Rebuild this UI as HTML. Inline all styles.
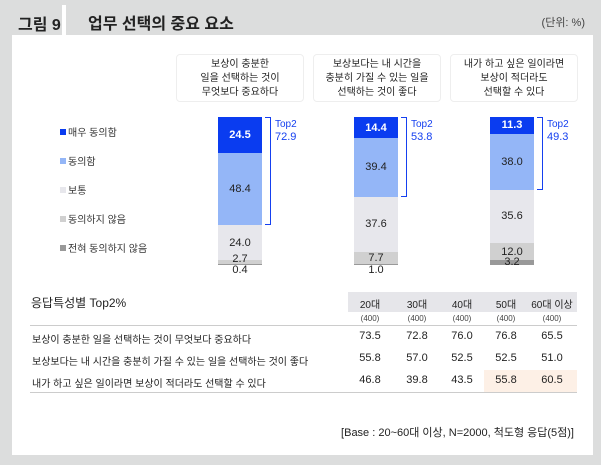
<!DOCTYPE html>
<html><head><meta charset="utf-8"><style>
*{margin:0;padding:0;box-sizing:border-box}
body{width:601px;height:465px;background:#dcdddd;position:relative;font-family:"Liberation Sans","Noto Sans CJK KR",sans-serif;color:#222;overflow:hidden}
.abs{position:absolute}
.lbl{position:absolute;background:#fff;border:1px solid #eee;border-radius:4px;font-size:10px;line-height:14px;text-align:center;padding-top:3px}
.leg{position:absolute;left:60px;font-size:10px;color:#333;white-space:nowrap}
.leg i{display:inline-block;width:6px;height:6px;margin-right:2px;vertical-align:1px}
.seg{position:absolute;font-size:11px;text-align:center}
</style></head><body>
<div class="abs" style="left:5px;top:5px;width:57px;height:30px;background:#dcdddd">
  <div style="position:absolute;left:13px;top:6px;font-size:16px;font-weight:bold;color:#222">그림 9</div></div>
<div class="abs" style="left:62px;top:5px;width:4px;height:30px;background:#fff"></div>
<div class="abs" style="left:88px;top:10px;font-size:16px;font-weight:bold">업무 선택의 중요 요소</div>
<div class="abs" style="right:16px;top:14px;font-size:11px;color:#444">(단위: %)</div>
<div class="abs" style="left:12px;top:35px;width:581px;height:420px;background:#fff"></div>

<div class="lbl" style="left:176px;top:54px;width:128px;height:48px">보상이 충분한<br>일을 선택하는 것이<br>무엇보다 중요하다</div>
<div class="lbl" style="left:313px;top:54px;width:128px;height:48px">보상보다는 내 시간을<br>충분히 가질 수 있는 일을<br>선택하는 것이 좋다</div>
<div class="lbl" style="left:450px;top:54px;width:128px;height:48px">내가 하고 싶은 일이라면<br>보상이 적더라도<br>선택할 수 있다</div>

<div class="leg" style="top:124px"><i style="background:#0a3cf0"></i>매우 동의함</div>
<div class="leg" style="top:153px"><i style="background:#94b6f7"></i>동의함</div>
<div class="leg" style="top:182px"><i style="background:#e7e7ec"></i>보통</div>
<div class="leg" style="top:211px"><i style="background:#d0d0d0"></i>동의하지 않음</div>
<div class="leg" style="top:240px"><i style="background:#999"></i>전혀 동의하지 않음</div>

<div id="chart"></div>

<div class="abs" style="left:31px;top:294px;font-size:12px">응답특성별 Top2%</div>
<div class="abs" style="left:348px;top:292px;width:229px;height:20px;background:#e6e6ea"></div>
<div class="abs" style="left:484px;top:370px;width:93px;height:22px;background:#fdf0e6"></div>
<div class="abs" style="left:30px;top:325px;width:547px;height:1px;background:#ccc"></div>
<div class="abs" style="left:30px;top:392px;width:547px;height:1px;background:#ccc"></div>
<div id="table"></div>
<div class="abs" style="right:27px;top:424px;font-size:11px">[Base : 20~60대 이상, N=2000, 척도형 응답(5점)]</div>

<script>
const groups=["q1","q2","q3"];
const veryAgree=[24.5,14.4,11.3];
const agree=[48.4,39.4,38.0];
const neutral=[24.0,37.6,35.6];
const disagree=[2.7,7.7,12.0];
const stronglyDisagree=[0.4,1.0,3.2];
const top2=[72.9,53.8,49.3];
const ageCols=["20대","30대","40대","50대","60대 이상"];
const rowLabels=["보상이 충분한 일을 선택하는 것이 무엇보다 중요하다","보상보다는 내 시간을 충분히 가질 수 있는 일을 선택하는 것이 좋다","내가 하고 싶은 일이라면 보상이 적더라도 선택할 수 있다"];
const row1=[73.5,72.8,76.0,76.8,65.5];
const row2=[55.8,57.0,52.5,52.5,51.0];
const row3=[46.8,39.8,43.5,55.8,60.5];

const topY=117,H=148,barX=[218,354,490],barW=44;
const y=v=>topY+v/100*H;
const chart=document.getElementById('chart');
const colors=["#0a3cf0","#94b6f7","#e7e7ec","#d0d0d0","#999"];
const series=[veryAgree,agree,neutral,disagree,stronglyDisagree];
const names=["very-agree","agree","neutral","disagree","strongly-disagree"];
groups.forEach((g,i)=>{
  let acc=0;
  series.forEach((s,k)=>{
    const v=s[i];const d=document.createElement('div');
    
    
    d.className='seg';
    d.style.cssText=`left:${barX[i]}px;top:${y(acc)}px;width:${barW}px;height:${y(acc+v)-y(acc)}px;background:${colors[k]}`;
    chart.appendChild(d);
    const t=document.createElement('div');
    
    
    t.className='seg';
    let cy=(y(acc)+y(acc+v))/2;
    if(k==3&&v<5) cy=y(acc)-1;
    if(k==4) cy=v>2?(y(acc)+2):(y(acc)+6);
    t.style.cssText=`left:${barX[i]}px;top:${cy-7}px;width:${barW}px;line-height:14px;color:${k==0?'#fff':'#222'};font-weight:${k==0?'bold':'normal'}`;
    t.textContent=v.toFixed(1);
    chart.appendChild(t);
    acc+=v;
  });
  const b=document.createElement('div');
  
  
  b.className='abs';
  b.style.cssText=`left:${barX[i]+47}px;top:${y(0)}px;width:6px;height:${y(top2[i])-y(0)}px;border:1px solid #1540f0;border-left:0`;
  chart.appendChild(b);
  const l=document.createElement('div');
  
  
  l.className='abs';
  l.style.cssText=`left:${barX[i]+57}px;top:${y(0)+1}px;font-size:10px;line-height:13px;color:#1540f0`;
  l.innerHTML='Top2<br><span style="font-size:11px">'+top2[i].toFixed(1)+'</span>';
  chart.appendChild(l);
});
const tb=document.getElementById('table');
const cx=[370,417,462,506,552];
ageCols.forEach((c,j)=>{
  const h=document.createElement('div');
  
  
  h.className='abs';
  h.style.cssText=`left:${cx[j]-30}px;width:60px;text-align:center;top:296px;font-size:10px`;
  h.textContent=c;tb.appendChild(h);
  const n=document.createElement('div');
  
  
  n.className='abs';
  n.style.cssText=`left:${cx[j]-30}px;width:60px;text-align:center;top:314px;font-size:8px;color:#444`;
  n.textContent='(400)';tb.appendChild(n);
});
const rowTops=[331,353,375];
[row1,row2,row3].forEach((r,i)=>{
  const ry=rowTops[i];
  const lb=document.createElement('div');
  
  
  lb.className='abs';
  lb.style.cssText=`left:32px;top:${ry}px;font-size:10px`;
  lb.textContent=rowLabels[i];tb.appendChild(lb);
  r.forEach((v,j)=>{
    const c=document.createElement('div');
    
    
    c.className='abs';
    c.style.cssText=`left:${cx[j]-30}px;width:60px;text-align:center;top:${ry-1}px;font-size:11px`;
    c.textContent=v.toFixed(1);tb.appendChild(c);
  });
});
</script>
</body></html>
